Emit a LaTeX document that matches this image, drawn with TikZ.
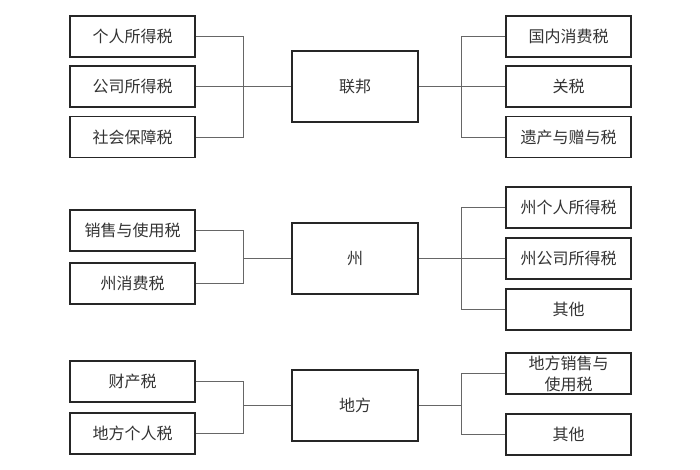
\documentclass[tikz,border=0pt]{standalone}
\usepackage{fontspec}
\setmainfont{Noto Sans CJK SC}
\begin{document}
\begin{tikzpicture}[x=1pt,y=-1pt,
  leaf/.style={draw=black!85,line width=1.4pt,minimum width=125pt,minimum height=41pt,inner sep=0pt,font=\fontsize{16}{21}\selectfont,text=black!80,align=center},
  hub/.style={draw=black!85,line width=1.4pt,minimum width=126pt,minimum height=71pt,inner sep=0pt,font=\fontsize{16}{21}\selectfont,text=black!80},
  link/.style={draw=black!60,line width=0.9pt}]
\useasboundingbox[fill=white] (0,0) rectangle (700,470);
% Federal
\node[hub] (fed) at (355,86.5) {联邦};
\node[leaf] (f1) at (132.5,36.5) {个人所得税};
\node[leaf] (f2) at (132.5,86.5) {公司所得税};
\node[leaf] (f3) at (132.5,137) {社会保障税};
\node[leaf] (f4) at (568.5,36.5) {国内消费税};
\node[leaf] (f5) at (568.5,86.5) {关税};
\node[leaf] (f6) at (568.5,137) {遗产与赠与税};
\coordinate (fl) at (243.5,86.5);
\coordinate (fr) at (461,86.5);
\draw[link] (f1.east) -| (fl);
\draw[link] (f2.east) -- (fl);
\draw[link] (f3.east) -| (fl);
\draw[link] (fl) -- (fed.west);
\draw[link] (fed.east) -- (fr);
\draw[link] (fr) |- (f4.west);
\draw[link] (fr) -- (f5.west);
\draw[link] (fr) |- (f6.west);
% State
\node[hub] (st) at (355,258.5) {州};
\node[leaf] (s1) at (132.5,230.5) {销售与使用税};
\node[leaf] (s2) at (132.5,283.5) {州消费税};
\node[leaf] (s3) at (568.5,207.5) {州个人所得税};
\node[leaf] (s4) at (568.5,258.5) {州公司所得税};
\node[leaf] (s5) at (568.5,309.5) {其他};
\coordinate (sl) at (243.5,258.5);
\coordinate (sr) at (461,258.5);
\draw[link] (s1.east) -| (sl);
\draw[link] (s2.east) -| (sl);
\draw[link] (sl) -- (st.west);
\draw[link] (st.east) -- (sr);
\draw[link] (sr) |- (s3.west);
\draw[link] (sr) -- (s4.west);
\draw[link] (sr) |- (s5.west);
% Local
\node[hub] (lo) at (355,405.5) {地方};
\node[leaf] (l1) at (132.5,381.5) {财产税};
\node[leaf] (l2) at (132.5,433.5) {地方个人税};
\node[leaf] (l3) at (568.5,373.5) {地方销售与\\使用税};
\node[leaf] (l4) at (568.5,434.5) {其他};
\coordinate (ll) at (243.5,405.5);
\coordinate (lr) at (461,405.5);
\draw[link] (l1.east) -| (ll);
\draw[link] (l2.east) -| (ll);
\draw[link] (ll) -- (lo.west);
\draw[link] (lo.east) -- (lr);
\draw[link] (lr) |- (l3.west);
\draw[link] (lr) |- (l4.west);
\end{tikzpicture}
\end{document}
